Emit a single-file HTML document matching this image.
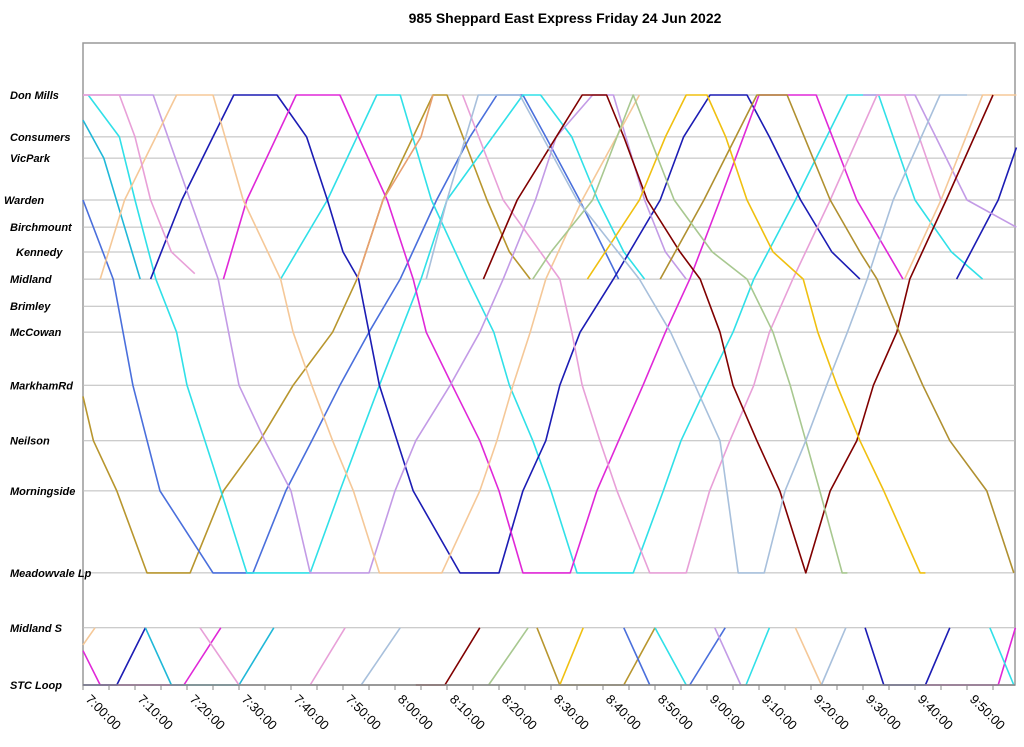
<!DOCTYPE html>
<html><head><meta charset="utf-8"><style>
html,body{margin:0;padding:0;background:#fff;width:1024px;height:747px;overflow:hidden}
svg{display:block;font-family:"Liberation Sans",Arial,sans-serif}
</style></head><body>
<svg id="chart" width="1024" height="747" viewBox="0 0 1024 747">
<text x="565" y="23" text-anchor="middle" font-size="14" font-weight="bold">985 Sheppard East Express Friday 24 Jun 2022</text>
<g id="grid"></g><g id="ylabels"></g><g id="trips"></g><g id="xaxis"></g>
</svg>
<script>
const stationNames = ["Don Mills","Consumers","VicPark","Warden","Birchmount","Kennedy","Midland","Brimley","McCowan","MarkhamRd","Neilson","Morningside","Meadowvale Lp","Midland S","STC Loop"];
const stationDist = [0,0.71,1.07,1.78,2.24,2.66,3.12,3.58,4.02,4.92,5.86,6.71,8.10,9.03,10.0];
const tickLabels = ["7:00:00","7:10:00","7:20:00","7:30:00","7:40:00","7:50:00","8:00:00","8:10:00","8:20:00","8:30:00","8:40:00","8:50:00","9:00:00","9:10:00","9:20:00","9:30:00","9:40:00","9:50:00"];
const tickMinutes = [0,10,20,30,40,50,60,70,80,90,100,110,120,130,140,150,160,170];
const tripColors = ["#b8962e","#4a6fdc","#20b8d8","#30e0e8","#30e0e8","#1c1cb4","#1c1cb4","#e028d8","#c39be6","#c39be6","#f5c898","#f5c898","#e8a0d8","#e8a0d8","#e8a070","#800000","#f0c010","#b09030","#a8c890","#a8c0dc",
"#f5c898","#e028d8","#1c1cb4","#20b8d8","#e8a0d8","#e8a0d8","#a8c0dc","#800000","#a8c890","#b8962e","#f0c010","#4a6fdc","#4a6fdc","#30e0e8","#30e0e8","#c39be6","#f5c898","#a8c0dc","#1c1cb4","#e028d8","#30e0e8"];
const tripTimes = [
[0,2,6.5,12.3,20.6,27,34,40.4,48,52.7,57.7,67.3,70,77.7,82,86],
[0,5.8,9.6,14.8,25,32.7,39,44,49.4,55,61,68,74.4,79.6,84.6,89,95.5,103],
[0,4,8,11],
[1,7,10,14,18,20,25,31.5,43.7,49.4,53,57,61,65,70,84.6,88,94,99,104,108],
[38,47,56.5,61,67,74,79,82,86.5,90,95,105.8,111.6,115,120,125,129,137,147,153,160,167,173],
[13,19,25,29,37.3,43,47,50,53,55,57,60.4,63.5,72.5,80,84.6,89,91.7,95.6,102,111,115.5,120.6,127.7,132,138,144,149.4],
[168,176,179.5],
[27,31.5,41,49.4,53,58.5,63.5,66,71,76.3,80,84.6,93.7,98.8,103,107.7,112,116.7,122.5,130,141,148.8,157.7],
[0,13.5,20.6,26,28,30,35,40,43.7,55,60,64,70.6,76.3,80.8,87,91,98,102,108,112,116],
[150,160,170,179.5],
[3.3,8,18,25,30.8,38,40.4,44,48,52,57,69,76.3,79.6,82.7,86,89,96,107],
[158,165,173,179.5],
[0,7,10,13,17,21.5],
[73,80.8,91.7,94,96,99.4,102.7,109,116,120.5,124.4,129,132,136.5,143.7,152.7,158,165],
[52.7,57.7,65,67.3],
[77,83.5,91,96,100.7,104,108.5,114.8,118.7,122.5,125,129.6,134,139,143.7,148.8,152,156.5,159,166,175],
[97,107,112,116,120,123.6,127.7,132.7,138.5,141.3,145,149.4,154,161,162],
[111,119.4,129.6,135.4,143.7,149.4,152.7,157,161.5,166.7,173.8,179],
[86.5,90,98,105.8,113.7,121,127.7,132.7,136,139,141.7,146,147],
[66,70,76,84,95,107,113,117.7,122.5,126,131,135,139,143,147,150.8,155.8,164.8,170],
[0,2.3],[0,3.3,19.4,26.5],[0,6.5,12],[12,17,30,36.7],[22.5,30],[43.7,50.4],[53.5,61],[64,69.6,76.3],[78,85.6],[87.3,91.7,104,110],[91.7,96.2],[104,109],[116.7,123.5],[110,116],[127.5,132],[121.5,126.5],[137,142],[142,146.7],[150.4,154,162,166.7],[162,176,179.3],[174.4,179]
];
const tripStops = [
[9.2,10,11,12,12,11,10,9,8,6,3,0,0,3,5,6],
[3,6,9,11,12,12,11,10,9,8,6,3,1,0,0,1,3,6],
[0.6,2,4,6],
[0,1,3,6,8,9,10.5,12,12,11,10,9,8,6,3,0,0,1,3,5,6],
[6,3,0,0,3,6,8,9,10,11,12,12,11,10,9,8,6,3,0,0,3,5,6],
[6,3,1,0,0,1,3,5,6,8,9,10,11,12,12,11,10,9,8,6,3,1,0,0,1,3,5,6],
[6,3,1.5],
[6,3,0,0,1,3,6,8,9,10,11,12,12,11,10,9,8,6,3,0,0,3,6],
[0,0,3,6,8,9,10,11,12,12,11,10,9,8,6,3,1,0,0,3,5,6],
[0,0,3,4],
[6,3,0,0,3,6,8,9,10,11,12,12,11,10,9,8,6,3,0],
[6,3,0,0],
[0,0,1,3,5,5.8],
[0,3,6,8,9,10,11,12,12,11,10,9,8,6,3,0,0,3],
[6,3,1,0],
[6,3,1,0,0,1,3,5,6,8,9,10,11,12,11,10,9,8,6,3,0],
[6,3,1,0,0,1,3,5,6,8,9,10,11,12,12],
[6,3,0,0,3,5,6,8,9,10,11,12],
[6,5,3,0,3,5,6,8,9,10,11,12,12],
[6,3,0,0,3,6,8,9,10,12,12,11,10,9,8,6,3,0,0],
[13.3,13],[13.4,14,14,13],[14,14,13],[13,14,14,13],[13,14],[14,13],[14,13],[14,14,13],[14,13],[13,14,14,13],[14,13],[13,14],[14,13],[13,14],[14,13],[13,14],[13,14],[14,13],[13,14,14,13],[14,14,13],[13,14]
];
const NS="http://www.w3.org/2000/svg";
const X0=83,X1=1015,PXMIN=5.2;
function xScale(m){return X0+m*PXMIN;}
function distOf(s){const i=Math.floor(s),f=s-i;if(i>=stationDist.length-1)return stationDist[stationDist.length-1];return stationDist[i]+f*(stationDist[i+1]-stationDist[i]);}
function yScale(s){return 95+distOf(s)*59;}
function mk(tag,attrs,parent){const e=document.createElementNS(NS,tag);for(const k in attrs)e.setAttribute(k,attrs[k]);parent.appendChild(e);return e;}
const grid=document.getElementById('grid'),yl=document.getElementById('ylabels'),tg=document.getElementById('trips'),xa=document.getElementById('xaxis');
const frame=mk('rect',{x:X0,y:43,width:X1-X0,height:685-43,fill:'none',stroke:'#999','stroke-width':1.5},grid);


const labelDx={"Warden":4,"Kennedy":16};
stationNames.forEach((n,i)=>{
  const y=yScale(i);
  if(i<stationNames.length-1){const l=mk('line',{x1:X0,x2:X1,y1:y,y2:y,stroke:'#bbb','stroke-width':1},grid);
  
  }
  const t=mk('text',{x:labelDx[n]||10,y:y+4,'font-size':11,'font-weight':'bold','font-style':'italic'},yl);
  t.textContent=n;
  
  
});
tripTimes.forEach((ts,k)=>{
  const pts=ts.map((t,j)=>xScale(t).toFixed(1)+','+yScale(tripStops[k][j]).toFixed(1)).join(' ');
  const p=mk('polyline',{points:pts,fill:'none',stroke:tripColors[k],'stroke-width':1.6,'stroke-linejoin':'round'},tg);
  
  
});
const ax=mk('line',{x1:X0,x2:X1,y1:685,y2:685,stroke:'#888','stroke-width':1.5},xa);


for(let m=0;m<=180;m+=5){const x=xScale(m);if(x>X1)break;
  const tk=mk('line',{x1:x,x2:x,y1:685,y2:690,stroke:'#888','stroke-width':1},xa);
  
  }
tickMinutes.forEach((m,i)=>{const x=xScale(m)+2;
  const t=mk('text',{x:x,y:700,'font-size':13,transform:'rotate(45 '+x+' 700)'},xa);
  t.textContent=tickLabels[i];
  
  });
</script>
</body></html>
